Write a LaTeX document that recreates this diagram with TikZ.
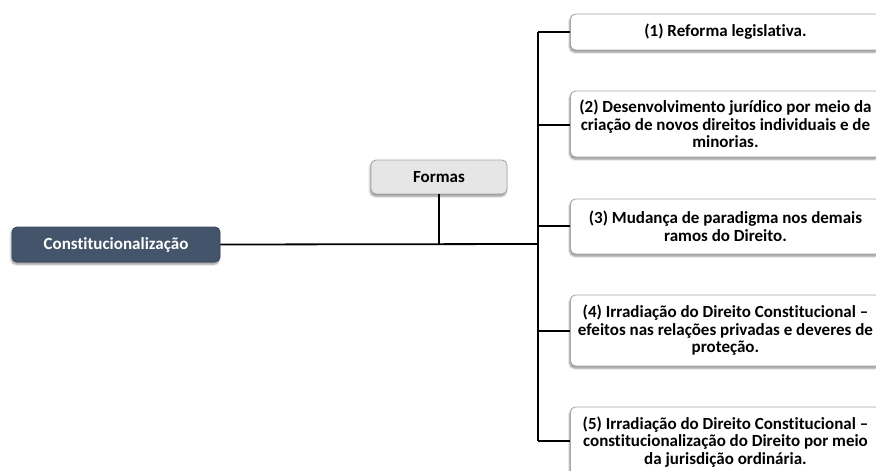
\documentclass[tikz,border=0pt]{standalone}
\usepackage{fontspec}
\setmainfont{Carlito}[Ligatures=NoCommon]
\usetikzlibrary{shadows.blur}
\definecolor{slate}{HTML}{44546A}
\definecolor{slateedge}{HTML}{3A475A}
\definecolor{paleg}{HTML}{E7E6E6}
\definecolor{edgeg}{HTML}{A6A6A6}
\tikzset{
  boxbase/.style={rounded corners=5pt, draw, line width=0.9pt, align=center,
    font=\fontsize{17}{17.5}\selectfont\bfseries, inner sep=0pt,
    blur shadow={shadow xshift=-0.8pt, shadow yshift=-2.2pt, shadow blur steps=6, shadow opacity=45}},
  rootbox/.style={boxbase, fill=slate, draw=slateedge, text=white},
  labelbox/.style={boxbase, fill=paleg, draw=edgeg, text=black},
  itembox/.style={boxbase, fill=white, draw=edgeg, text=black, minimum width=310pt, anchor=west},
  link/.style={draw=black, line width=1.8pt},
  sublink/.style={draw=black, line width=1.4pt}
}
\begin{document}
\begin{tikzpicture}[x=1pt, y=-1pt]
\useasboundingbox (0,0) rectangle (876,471);

\node[rootbox, minimum width=208pt, minimum height=35pt] (root) at (116,244.5) {Constitucionalização};
\node[labelbox, minimum width=136pt, minimum height=34pt] (formas) at (439,177) {Formas};

\node[itembox, minimum height=36pt] (b1) at (570,32) {(1) Reforma legislativa.};
\node[itembox, minimum height=66pt] (b2) at (570,124) {(2) Desenvolvimento jurídico por meio da\\criação de novos direitos individuais e de\\minorias.};
\node[itembox, minimum height=55pt] (b3) at (570,226.5) {(3) Mudança de paradigma nos demais\\ramos do Direito.};
\node[itembox, minimum height=71pt] (b4) at (570,330.5) {(4) Irradiação do Direito Constitucional –\\efeitos nas relações privadas e deveres de\\proteção.};
\node[itembox, minimum height=70pt] (b5) at (570,442) {(5) Irradiação do Direito Constitucional –\\constitucionalização do Direito por meio\\da jurisdição ordinária.};

% trunk and joints
\coordinate (hub) at (538,244);
\coordinate (ttop) at (538,32);
\coordinate (tbot) at (538,441);
\coordinate (fjoin) at (439,244);

\draw[link] (root.east) -- (hub);
\draw[sublink] (formas.south) -- (fjoin);
\draw[sublink] (ttop) -- (tbot);
\foreach \b/\y in {b1/32, b2/125, b3/226, b4/331, b5/441}
  \draw[sublink] (538,\y) -- (\b.west |- 0,\y);
\end{tikzpicture}
\end{document}
